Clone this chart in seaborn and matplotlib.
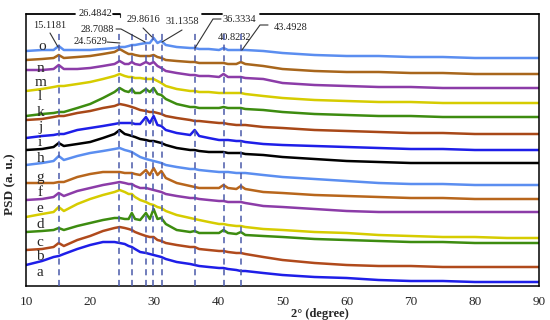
import pandas as pd
import matplotlib
matplotlib.use("Agg")
import matplotlib.pyplot as plt
import seaborn as sns

# 2-theta grid (degree) and stacked PSD traces (a.u.)
theta = [10, 12.5, 14.3, 15.1, 15.9, 18, 20, 22, 23.8, 24.6, 25.4, 26.0, 26.5, 27.0,
         27.8, 28.7, 29.3, 29.9, 30.5, 31.1, 31.8, 33.5, 35.6, 36.3, 37.0, 38.5,
         40.1, 40.8, 41.5, 42.8, 43.5, 44.2, 47, 50, 55, 60, 65, 70, 75, 80, 85, 90]

psd_a = [21, 25, 29, 30, 32, 37, 41, 44, 44, 43, 42, 40, 39, 37, 34, 33, 32, 31, 30, 29, 27,
         24, 22, 21, 20, 19, 18, 18, 17, 16, 15, 15, 13, 11, 9, 8, 6, 5, 5, 4, 4, 4]
psd_b = [36, 37, 39, 43, 40, 46, 50, 55, 58, 59, 58, 57, 56, 54, 52, 50, 49, 49, 46, 45, 43,
         41, 39, 39, 37, 36, 35, 35, 34, 33, 33, 32, 29, 26, 23, 21, 20, 20, 19, 19, 19, 19]
psd_c = [54, 55, 56, 58, 56, 60, 63, 66, 68, 68, 67, 67, 73, 67, 66, 73, 67, 77, 67, 68, 62,
         56, 54, 55, 53, 53, 53, 56, 53, 52, 54, 51, 50, 49, 47, 46, 45, 44, 44, 43, 43, 43]
psd_d = [69, 72, 74, 79, 75, 82, 87, 91, 94, 96, 94, 92, 92, 89, 86, 84, 82, 81, 79, 78, 75,
         71, 68, 67, 66, 64, 62, 62, 61, 60, 60, 59, 57, 56, 54, 53, 51, 50, 49, 49, 48, 48]
psd_e = [86, 87, 89, 93, 90, 95, 98, 101, 103, 104, 103, 102, 102, 100, 98, 98, 97, 96, 95,
         94, 92, 90, 88, 88, 87, 86, 85, 85, 84, 84, 84, 83, 80, 79, 77, 75, 74, 74, 74, 74,
         74, 74]
psd_f = [103, 103, 103, 104, 104, 109, 112, 114, 114, 114, 113, 113, 113, 112, 111, 116,
         111, 118, 111, 115, 108, 103, 100, 99, 98, 98, 98, 101, 98, 97, 100, 97, 94, 93, 91,
         90, 89, 88, 88, 87, 87, 87]
psd_g = [121, 123, 125, 130, 126, 130, 133, 135, 137, 138, 136, 135, 134, 132, 129, 127,
         126, 125, 124, 123, 121, 119, 117, 117, 116, 115, 114, 114, 114, 113, 113, 113, 111,
         109, 107, 105, 103, 102, 102, 101, 101, 101]
psd_h = [136, 137, 139, 143, 140, 142, 144, 148, 152, 156, 152, 151, 150, 149, 147, 146,
         145, 145, 144, 143, 141, 138, 136, 136, 135, 134, 134, 134, 133, 133, 133, 132, 131,
         129, 127, 125, 124, 123, 123, 123, 123, 123]
psd_i = [148, 150, 151, 152, 152, 156, 158, 160, 162, 163, 163, 163, 163, 162, 162, 169,
         163, 170, 161, 160, 156, 153, 151, 156, 150, 148, 146, 146, 146, 145, 145, 144, 142,
         141, 140, 139, 138, 137, 137, 136, 136, 136]
psd_j = [166, 167, 169, 170, 170, 173, 175, 178, 180, 182, 181, 180, 179, 178, 176, 175,
         174, 174, 173, 172, 170, 168, 166, 165, 165, 164, 163, 163, 162, 161, 161, 161, 159,
         158, 156, 155, 154, 153, 153, 152, 152, 152]
psd_k = [170, 172, 173, 174, 174, 178, 182, 188, 194, 198, 195, 194, 197, 193, 193, 197,
         194, 198, 192, 191, 187, 182, 179, 179, 178, 178, 178, 179, 178, 178, 178, 177, 176,
         174, 172, 171, 170, 170, 169, 169, 169, 169]
psd_l = [195, 197, 199, 200, 200, 202, 204, 207, 210, 212, 210, 209, 209, 208, 208, 207,
         207, 207, 205, 203, 200, 197, 195, 195, 194, 194, 193, 193, 193, 193, 193, 192, 190,
         188, 186, 185, 184, 184, 183, 183, 183, 183]
psd_m = [216, 216, 217, 221, 217, 217, 218, 220, 222, 225, 222, 222, 224, 222, 221, 224,
         222, 224, 220, 218, 215, 213, 211, 211, 210, 210, 209, 212, 209, 209, 209, 208, 207,
         203, 201, 200, 199, 199, 198, 198, 198, 198]
psd_n = [226, 227, 228, 231, 228, 229, 230, 232, 234, 237, 234, 232, 232, 231, 230, 230,
         230, 231, 229, 228, 226, 225, 224, 224, 223, 223, 223, 223, 222, 222, 224, 222, 220,
         217, 215, 214, 214, 213, 213, 212, 212, 212]
psd_o = [235, 236, 236, 240, 236, 236, 236, 237, 238, 239, 239, 240, 241, 241, 242, 243,
         243, 248, 243, 245, 241, 239, 238, 238, 237, 237, 236, 238, 236, 236, 236, 236, 235,
         233, 231, 230, 230, 229, 229, 228, 228, 228]

samples = list("abcdefghijklmno")
traces = [psd_a, psd_b, psd_c, psd_d, psd_e, psd_f, psd_g, psd_h,
          psd_i, psd_j, psd_k, psd_l, psd_m, psd_n, psd_o]
label_pos = [14, 29, 44, 61, 77, 94, 109, 128, 143, 158, 174, 189, 204, 218, 239]

peaks = [15.1181, 24.5629, 26.4842, 28.7088, 29.8616, 31.1358, 36.3334, 40.8232, 43.4928]

colors = ["#1e1ee8", "#b04a1c", "#3d8c10", "#d6cc00", "#8c3ca8", "#b8661c", "#5b8ef0",
          "#000000", "#1e1ee8", "#a84818", "#3d8c10", "#d6cc00", "#8c3ca8", "#a8661c",
          "#5b8ef0"]

df = pd.concat([pd.DataFrame({"theta": theta, "psd": t, "sample": s})
                for s, t in zip(samples, traces)], ignore_index=True)

sns.set_style("white")
plt.rcParams["font.family"] = ["Liberation Serif", "DejaVu Serif"]

fig, ax = plt.subplots(figsize=(5.5, 3.2), dpi=100)
fig.subplots_adjust(left=0.0473, right=0.98, bottom=0.10625, top=0.95625)

sns.lineplot(data=df, x="theta", y="psd", hue="sample", palette=colors,
             estimator=None, legend=False, linewidth=1.8, ax=ax)

for p in peaks:
    ax.axvline(p, ymin=0, ymax=0.94, color="#4a5aaa", lw=1.1, ls=(0, (4, 3)), zorder=5)

for s, y in zip(samples, label_pos):
    ax.text(12.6 if s == "o" else 12.2, y, s, fontsize=11, ha="center", va="center")

# peak annotations with leader lines
notes = [("15.1181", 13.74, 260, [13.74, 14.99], [253, 239]),
         ("24.5629", 19.98, 244, [22.63, 24.66], [244, 243]),
         ("26.4842", 20.76, 272, [23.57, 24.66, 24.66], [272, 272, 269]),
         ("28.7088", 21.07, 257, [24.04, 24.81, 28.56], [257, 257, 244]),
         ("29.8616", 28.25, 266, [28.25, 29.65], [258, 249]),
         ("31.1358", 34.33, 264, [34.33, 31.21], [256, 244]),
         ("36.3334", 43.22, 266, [40.41, 39.16, 36.35], [267, 267, 238]),
         ("40.8232", 42.59, 249, None, None),
         ("43.4928", 51.33, 259, [47.74, 46.49, 43.68], [261, 261, 236])]
for txt, tx, ty, lx, ly in notes:
    ax.text(tx, ty, txt, fontsize=7.5, ha="center", va="center", color="#222222")
    if lx is not None:
        ax.plot(lx, ly, color="#333333", lw=0.8, clip_on=False, zorder=6)

# broken top frame
for x0, x1 in [(10, 17.64), (23.57, 24.66), (37.45, 40.57), (46.49, 90)]:
    ax.plot([x0, x1], [272, 272], color="black", lw=1.3, clip_on=False, zorder=7)

ax.set_xlim(10, 90)
ax.set_ylim(0, 272)
ax.set_xticks(range(10, 100, 10))
ax.set_yticks([])
ax.set_xlabel("")
ax.set_ylabel("")
ax.tick_params(axis="x", direction="inout", length=6, width=1, labelsize=9.5, pad=4)
ax.spines["top"].set_visible(False)
for side in ["left", "right", "bottom"]:
    ax.spines[side].set_color("black")
    ax.spines[side].set_linewidth(1.1)

fig.text(320 / 550, 1 - 313.5 / 320, "2° (degree)", fontsize=9, fontweight="bold",
         ha="center", va="center")
fig.text(10 / 550, 1 - 184 / 320, "PSD (a. u.)", fontsize=9.5, fontweight="bold",
         rotation=90, ha="center", va="center")

fig.savefig("out.png", dpi=100)
